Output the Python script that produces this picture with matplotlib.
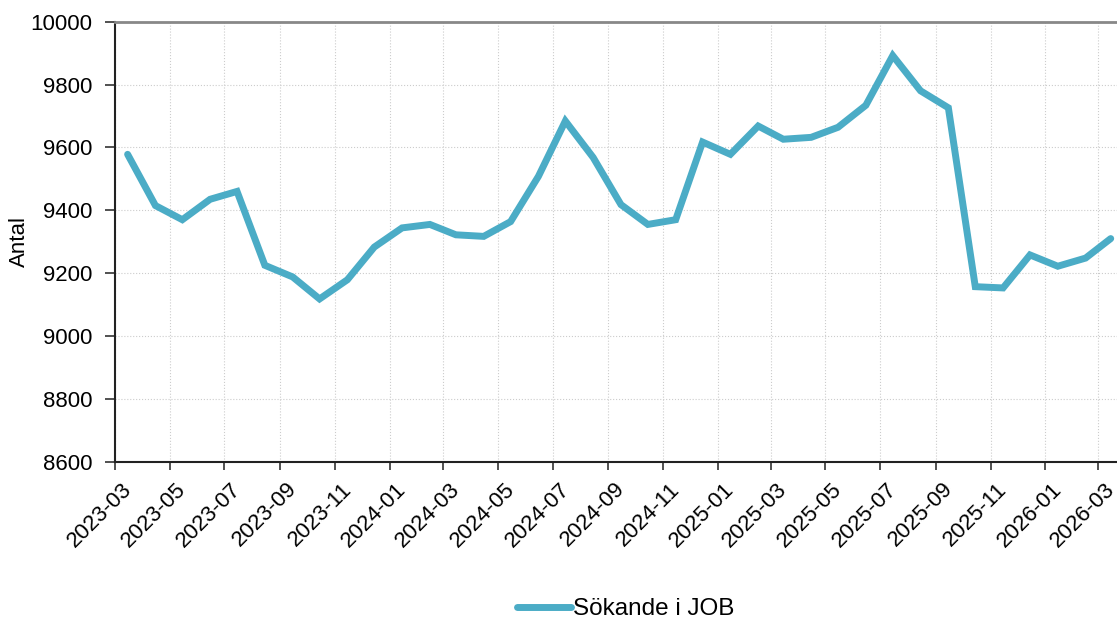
import matplotlib.pyplot as plt
import matplotlib.dates as mdates
import matplotlib.transforms as mtransforms
import pandas as pd

plt.rcParams['font.family'] = ['Liberation Sans', 'DejaVu Sans']

# monthly values, plotted mid-month
months = pd.date_range('2023-03-01', '2026-03-01', freq='MS') + pd.Timedelta(days=14)
values = [9578, 9415, 9370, 9435, 9460, 9225, 9188, 9118, 9179, 9283,
          9344, 9355, 9322, 9317, 9364, 9508, 9684, 9568, 9418, 9355,
          9370, 9617, 9578, 9668, 9626, 9632, 9664, 9734, 9892, 9780,
          9726, 9157, 9153, 9258, 9222, 9248, 9310]
series_name = 'Sökande i JOB'
line_color = '#4BACC6'

fig = plt.figure(figsize=(11.17, 6.19), dpi=100)
ax = fig.add_axes([0.103, 0.254, 0.897, 0.711])

ax.plot(months, values, color=line_color, linewidth=5, label=series_name,
        solid_joinstyle='miter', solid_capstyle='round')

ax.set_ylim(8600, 10000)
ax.set_yticks(range(8600, 10001, 200))
ax.set_xlim(pd.Timestamp('2023-03-01'), pd.Timestamp('2026-03-22'))
ax.xaxis.set_major_locator(mdates.MonthLocator(bymonth=[1, 3, 5, 7, 9, 11]))
ax.xaxis.set_major_formatter(mdates.DateFormatter('%Y-%m'))

ax.grid(True, color='#cccccc', linestyle=':', linewidth=0.8)
ax.set_axisbelow(True)
ax.tick_params(labelsize=16, width=1.2, color='#333333')
ax.tick_params(axis='x', length=6, pad=1)
ax.tick_params(axis='y', length=7, pad=9.5)
ax.set_ylabel('Antal', fontsize=16, labelpad=0)

# nudge rotated date labels so their end sits just right of the tick
shift = mtransforms.ScaledTranslation(6 / 100, -7 / 100, fig.dpi_scale_trans)
for lbl in ax.get_xticklabels():
    lbl.set_rotation(45)
    lbl.set_ha('right')
    lbl.set_rotation_mode('anchor')
    lbl.set_transform(lbl.get_transform() + shift)

ax.spines['right'].set_visible(False)
ax.spines['top'].set_color('#888888')
ax.spines['top'].set_linewidth(2)
ax.spines['left'].set_linewidth(1.5)
ax.spines['bottom'].set_linewidth(1.5)
ax.spines['left'].set_color('#222222')
ax.spines['bottom'].set_color('#222222')

ax.legend(loc='center', bbox_to_anchor=(0.51, -0.335), frameon=False,
          fontsize=17.5, handlelength=2.2, handletextpad=0.1)

fig.savefig('out.png', dpi=100)
